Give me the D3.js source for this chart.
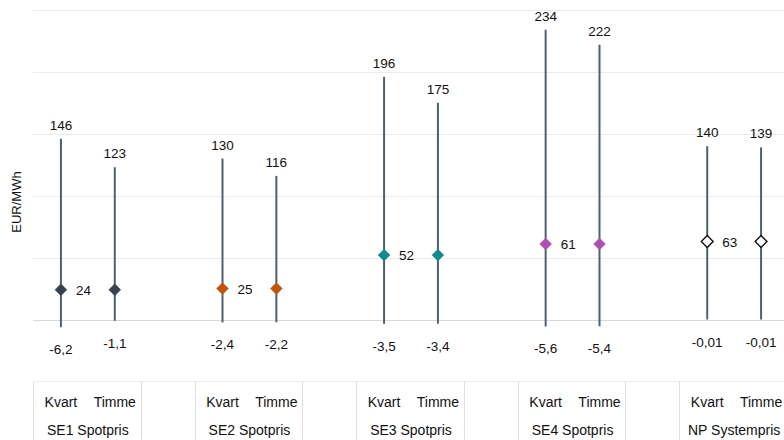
<!DOCTYPE html>
<html>
<head>
<meta charset="utf-8">
<script src="https://cdn.jsdelivr.net/npm/d3@7"></script>
<style>
  html, body { margin: 0; padding: 0; background: #ffffff; }
  svg { display: block; font-family: "Liberation Sans", Arial, sans-serif; }
</style>
</head>
<body>
<svg id="chart" width="784" height="440"></svg>
<script>
// Price areas and the two settlement resolutions
const groups = ["SE1 Spotpris", "SE2 Spotpris", "SE3 Spotpris", "SE4 Spotpris", "NP Systempris"];
const resolutions = ["Kvart", "Timme"];

// Per bar, in the order SE1 Kvart, SE1 Timme, SE2 Kvart, ... (EUR/MWh)
const maxValues = [146, 123, 130, 116, 196, 175, 234, 222, 140, 139];
const minValues = [-6.2, -1.1, -2.4, -2.2, -3.5, -3.4, -5.6, -5.4, -0.01, -0.01];
const avgValues = [24, 24, 25, 25, 52, 52, 61, 61, 63, 63];

// Gridline values on the value axis
const yTicks = [0, 50, 100, 150, 200, 250];

// Marker colours per price area
const groupFill = ["#36434f", "#c0560c", "#12898c", "#b04fb3", "#ffffff"];
const groupStroke = ["#36434f", "#c0560c", "#12898c", "#b04fb3", "#111111"];

const svg = d3.select("#chart");
const W = 784;

const plotLeft = 34, plotRight = 788;

// Build category slots: two bars per area with an empty slot between areas
const slots = [];
groups.forEach((g, gi) => {
  resolutions.forEach((r, ri) => {
    const i = gi * resolutions.length + ri;
    slots.push({ key: g + "|" + r, group: g, gi, res: r, ri,
                 max: maxValues[i], min: minValues[i], avg: avgValues[i], bar: true });
  });
  if (gi < groups.length - 1) slots.push({ key: "gap" + gi, bar: false });
});

const x = d3.scaleBand().domain(slots.map(d => d.key)).range([plotLeft, plotRight]).padding(0);
const y = d3.scaleLinear().domain([0, 250]).range([319.5, 10]);

const fmt = v => String(v).replace(".", ",");

// Gridlines
svg.append("g").selectAll("line").data(yTicks).join("line")
  .attr("x1", plotLeft - 1).attr("x2", W)
  .attr("y1", d => Math.round(y(d)) + 0.5).attr("y2", d => Math.round(y(d)) + 0.5)
  .attr("stroke", d => d === 0 ? "#d9d9d9" : "#ebebeb").attr("stroke-width", 1);

// Value axis title
svg.append("text")
  .attr("transform", "translate(21,202) rotate(-90)")
  .attr("text-anchor", "middle")
  .attr("font-size", 13).attr("fill", "#111")
  .text("EUR/MWh");

const bars = slots.filter(d => d.bar);
const cx = d => x(d.key) + x.bandwidth() / 2;

// Min–max range lines
svg.append("g").selectAll("line").data(bars).join("line")
  .attr("x1", cx).attr("x2", cx)
  .attr("y1", d => y(d.max)).attr("y2", d => y(d.min))
  .attr("stroke", "#4d6072").attr("stroke-width", 2);

// Average markers
svg.append("g").selectAll("path").data(bars).join("path")
  .attr("d", d3.symbol(d3.symbolSquare, 70)())
  .attr("transform", d => `translate(${cx(d)},${y(d.avg)}) rotate(45)`)
  .attr("fill", d => groupFill[d.gi])
  .attr("stroke", d => groupStroke[d.gi])
  .attr("stroke-width", d => d.gi === 4 ? 1.4 : 0.5);

// Max labels
svg.append("g").selectAll("text").data(bars).join("text")
  .attr("x", cx).attr("y", d => y(d.max) - 9)
  .attr("text-anchor", "middle").attr("font-size", 13.5).attr("fill", "#111")
  .text(d => fmt(d.max));

// Min labels
svg.append("g").selectAll("text").data(bars).join("text")
  .attr("x", cx).attr("y", d => y(d.min) + 27)
  .attr("text-anchor", "middle").attr("font-size", 13.5).attr("fill", "#111")
  .text(d => fmt(d.min));

// Average labels, shown on the first bar of each area
svg.append("g").selectAll("text").data(bars.filter(d => d.ri === 0)).join("text")
  .attr("x", d => cx(d) + 15).attr("y", d => y(d.avg) + 5)
  .attr("font-size", 13.5).attr("fill", "#111")
  .text(d => fmt(d.avg));

// Two-level category axis
const axisTop = 381.5;
const axis = svg.append("g");
axis.append("line")
  .attr("x1", plotLeft - 0.5).attr("x2", W).attr("y1", axisTop).attr("y2", axisTop)
  .attr("stroke", "#ececec");

const boundaries = [plotLeft];
slots.forEach((d, i) => {
  const prev = slots[i - 1];
  if (i > 0 && (!d.bar || (prev && !prev.bar))) boundaries.push(x(d.key));
});
boundaries.push(plotRight);
axis.selectAll("line.sep").data(boundaries).join("line").attr("class", "sep")
  .attr("x1", d => Math.round(d) - 0.5).attr("x2", d => Math.round(d) - 0.5)
  .attr("y1", axisTop).attr("y2", 440)
  .attr("stroke", "#dedede");

axis.selectAll("text.res").data(bars).join("text").attr("class", "res")
  .attr("x", cx).attr("y", 407)
  .attr("text-anchor", "middle").attr("font-size", 14).attr("fill", "#111")
  .text(d => d.res);

axis.selectAll("text.grp").data(groups).join("text").attr("class", "grp")
  .attr("x", g => {
    const first = x(g + "|" + resolutions[0]);
    const last = x(g + "|" + resolutions[resolutions.length - 1]) + x.bandwidth();
    return (first + last) / 2;
  })
  .attr("y", 435)
  .attr("text-anchor", "middle").attr("font-size", 14).attr("fill", "#111")
  .text(g => g);
</script>
</body>
</html>
